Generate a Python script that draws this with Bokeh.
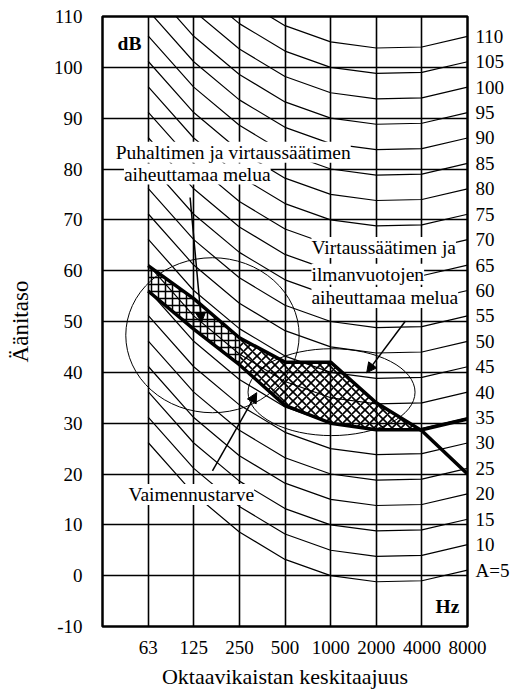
from bokeh.plotting import figure
from bokeh.models import FixedTicker, LinearAxis, Label, Arrow, NormalHead
from bokeh.embed import file_html
from bokeh.resources import INLINE

# ---------------- data ----------------
freq_labels = ["63", "125", "250", "500", "1000", "2000", "4000", "8000"]
band_pos = [1, 2, 3, 4, 5, 6, 7, 8]

# shape of the equal-level curves (dB relative to the 1 kHz value)
curve_shape = [26.2, 16.1, 8.6, 3.2, 0.0, -1.2, -1.0, 1.1]
# level of each curve at 1 kHz and its right-hand label
curve_1k_db = [0, 5, 10, 15, 20, 25, 30, 35, 40, 45, 50, 55, 60, 65, 70, 75,
               80, 85, 90, 95, 100, 105]
curve_names = ["A=5", "10", "15", "20", "25", "30", "35", "40", "45", "50", "55",
               "60", "65", "70", "75", "80", "85", "90", "95", "100", "105", "110"]

# thick lines bounding the hatched region
upper_db = [61.0, 54.5, 46.8, 42.0, 42.0, 34.0, 28.5, 20.0]
lower_db = [56.0, 48.5, 41.5, 33.5, 30.0, 28.7, 28.7, 30.8]

y_ticks = [-10, 0, 10, 20, 30, 40, 50, 60, 70, 80, 90, 100, 110]
y_tick_labels = ["-10", "0", "10", "20", "30", "40", "50", "60", "70", "80",
                 "90", "100", "110"]

# ellipses (centre x in band units, centre y dB, width, height)
ell_x = [2.41, 5.02]
ell_y = [47.3, 36.1]
ell_w = [3.80, 3.66]
ell_h = [30.5, 17.1]

FONT = "Liberation Serif"

p = figure(width=517, height=691, x_range=(0, 8), y_range=(-10, 110),
           output_backend="svg", toolbar_location=None,
           min_border_left=102, min_border_right=50,
           min_border_top=16, min_border_bottom=65,
           background_fill_color="white", border_fill_color="white")

p.outline_line_color = "black"
p.outline_line_width = 2.5
p.outline_line_alpha = 1

# grid
p.xgrid.ticker = FixedTicker(ticks=band_pos[:-1])
p.ygrid.ticker = FixedTicker(ticks=y_ticks[1:-1])
for g in (p.xgrid[0], p.ygrid[0]):
    g.grid_line_color = "black"
    g.grid_line_width = 1.6
    g.grid_line_alpha = 1

# left axis
yax = p.yaxis[0]
yax.ticker = FixedTicker(ticks=y_ticks)
yax.major_label_overrides = {t: s for t, s in zip(y_ticks, y_tick_labels)}
yax.major_tick_line_color = None
yax.minor_tick_line_color = None
yax.major_tick_out = 0
yax.major_tick_in = 0
yax.axis_line_color = None
yax.major_label_standoff = 20
yax.major_label_text_font = FONT
yax.major_label_text_font_size = "19px"
yax.major_label_text_color = "black"
yax.axis_label = "Äänitaso"
yax.axis_label_text_font = FONT
yax.axis_label_text_font_size = "23px"
yax.axis_label_text_font_style = "normal"
yax.axis_label_text_color = "black"
yax.axis_label_standoff = 18

# bottom axis
xax = p.xaxis[0]
xax.ticker = FixedTicker(ticks=band_pos)
xax.major_label_overrides = {b: f for b, f in zip(band_pos, freq_labels)}
xax.major_tick_line_color = None
xax.minor_tick_line_color = None
xax.major_tick_out = 0
xax.major_tick_in = 0
xax.axis_line_color = None
xax.major_label_standoff = 14
xax.major_label_text_font = FONT
xax.major_label_text_font_size = "19px"
xax.major_label_text_color = "black"
xax.axis_label = "Oktaavikaistan keskitaajuus"
xax.axis_label_text_font = FONT
xax.axis_label_text_font_size = "22px"
xax.axis_label_text_font_style = "normal"
xax.axis_label_text_color = "black"
xax.axis_label_standoff = 7

# equal-level curves
curve_xs = [band_pos for _ in curve_1k_db]
curve_ys = [[c + s for s in curve_shape] for c in curve_1k_db]
p.multi_line(curve_xs, curve_ys, line_color="black", line_width=1.2)

# right axis carrying the curve names at the curves' 8 kHz ends
end_vals = [ys[-1] for ys in curve_ys]
rax = LinearAxis(ticker=FixedTicker(ticks=end_vals),
                 major_label_overrides={v: n for v, n in zip(end_vals, curve_names)})
rax.major_tick_line_color = None
rax.minor_tick_line_color = None
rax.major_tick_out = 0
rax.major_tick_in = 0
rax.axis_line_color = None
rax.major_label_standoff = 8
rax.major_label_text_font = FONT
rax.major_label_text_font_size = "19px"
rax.major_label_text_color = "black"
p.add_layout(rax, "right")

# ellipses
p.ellipse(x=ell_x, y=ell_y, width=ell_w, height=ell_h,
          fill_color=None, line_color="black", line_width=1)

# hatched region between the thick lines
k = 3  # split at 250 Hz
left_x = band_pos[:k] + band_pos[:k][::-1]
left_y = upper_db[:k] + lower_db[:k][::-1]
right_x = band_pos[k - 1:7] + band_pos[k - 1:7][::-1]
right_y = upper_db[k - 1:7] + lower_db[k - 1:7][::-1]
p.patch(left_x, left_y, fill_color=None, line_color=None,
        hatch_pattern="+", hatch_color="black", hatch_scale=7, hatch_weight=1.5)
p.patch(right_x, right_y, fill_color=None, line_color=None,
        hatch_pattern="x", hatch_color="black", hatch_scale=9, hatch_weight=1.6)

p.line(band_pos, upper_db, line_color="black", line_width=3.5)
p.line(band_pos, lower_db, line_color="black", line_width=3.5)


def add_label(x, y, text, bold=False, bg=True):
    lab = Label(x=x, y=y, text=text, text_font=FONT, text_font_size="19.5px",
                text_baseline="middle", text_align="left", text_color="black",
                text_font_style="bold" if bold else "normal",
                background_fill_color="white" if bg else None)
    p.add_layout(lab)


add_label(0.33, 104.6, "dB", bold=True, bg=False)
add_label(7.30, -6.06, "Hz", bold=True, bg=False)
add_label(0.29, 83.3, "Puhaltimen ja virtaussäätimen")
add_label(0.47, 79.0, "aiheuttamaa melua")
add_label(0.57, 15.95, "Vaimennustarve")
add_label(4.58, 64.55, "Virtaussäätimen ja")
add_label(4.58, 59.3, "ilmanvuotojen")
add_label(4.58, 54.7, "aiheuttamaa melua")


def add_arrow(x0, y0, x1, y1):
    p.add_layout(Arrow(end=NormalHead(size=10, fill_color="black",
                                      line_color="black", line_width=1),
                       x_start=x0, y_start=y0, x_end=x1, y_end=y1,
                       line_color="black", line_width=1.5))


add_arrow(1.92, 74.4, 2.17, 49.8)
add_arrow(2.41, 20.6, 3.38, 36.0)
add_arrow(6.64, 50.1, 5.79, 39.9)

open("out.html", "w").write(file_html(p, INLINE))
